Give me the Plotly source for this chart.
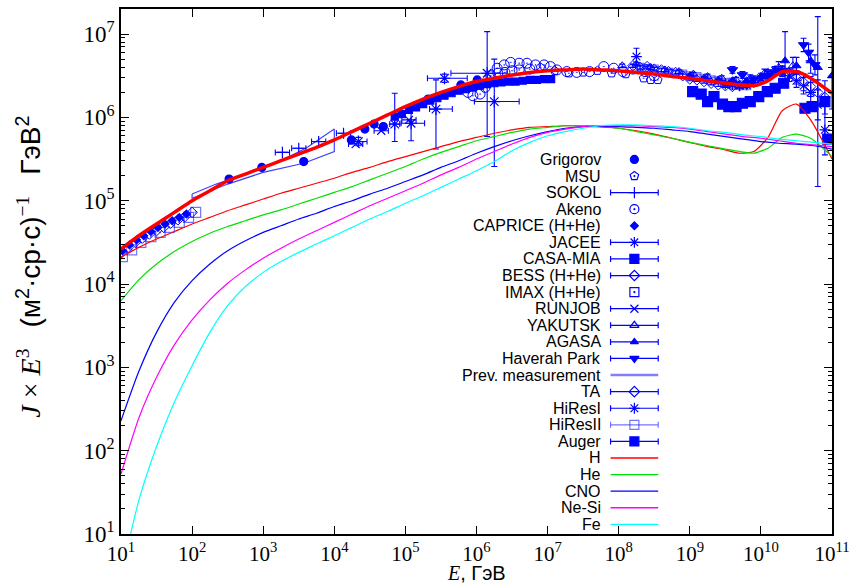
import numpy as np
import plotly.graph_objects as go

BLUE = '#0000ff'
LBLUE = 'rgba(0,0,255,0.55)'

# ---------------- model curves (log10 E [GeV], log10 J*E^3) ----------------
lE_grid = [1.0, 1.25, 1.5, 1.75, 2.0, 2.25, 2.5, 2.75, 3.0, 3.25, 3.5, 3.75, 4.0, 4.25, 4.5, 4.75, 5.0,
           5.25, 5.5, 5.75, 6.0, 6.25, 6.5, 6.75, 7.0, 7.25, 7.5, 7.75, 8.0, 8.25, 8.5, 8.75, 9.0, 9.25, 9.5]
lE_tail = [9.7, 9.9, 10.1, 10.3, 10.5, 10.7, 11.0]
lE_full = [1.0, 1.25, 1.5, 1.75, 2.0, 2.25, 2.5, 2.75, 3.0, 3.25, 3.5, 3.75, 4.0, 4.25, 4.5, 4.75, 5.0,
           5.25, 5.5, 5.75, 6.0, 6.25, 6.5, 6.75, 7.0, 7.25, 7.5, 7.75, 8.0, 8.25, 8.5, 8.75, 9.0, 9.25, 9.5,
           9.75, 10.0, 10.25, 10.5, 10.75, 11.0]

lJ_H = [4.32, 4.44, 4.54, 4.63, 4.72, 4.80, 4.88, 4.95, 5.02, 5.09, 5.15, 5.21, 5.27, 5.34, 5.40, 5.47, 5.53,
        5.59, 5.65, 5.71, 5.76, 5.81, 5.85, 5.88, 5.89, 5.90, 5.90, 5.89, 5.87, 5.84, 5.80, 5.75, 5.70, 5.65, 5.61,
        5.57, 5.59, 5.76, 6.08, 6.16, 5.97, 5.50]
lJ_He = [3.80, 4.05, 4.24, 4.39, 4.51, 4.61, 4.69, 4.76, 4.83, 4.89, 4.96, 5.03, 5.10, 5.17, 5.25, 5.33, 5.41,
         5.50, 5.58, 5.65, 5.72, 5.77, 5.82, 5.86, 5.88, 5.90, 5.90, 5.89, 5.87, 5.83, 5.79, 5.75, 5.70, 5.66, 5.62,
         5.59, 5.57, 5.63, 5.76, 5.80, 5.75, 5.53]
lJ_CNO = [2.36, 2.95, 3.42, 3.78, 4.04, 4.24, 4.40, 4.52, 4.62, 4.70, 4.78, 4.85, 4.93, 5.00, 5.08, 5.15, 5.23,
          5.31, 5.40, 5.48, 5.57, 5.65, 5.72, 5.78, 5.83, 5.87, 5.89, 5.89, 5.89, 5.88, 5.87, 5.85, 5.83, 5.80,
          5.77, 5.74, 5.71, 5.69, 5.68, 5.66, 5.62]
lJ_NeSi = [1.72, 2.39, 2.88, 3.27, 3.57, 3.81, 4.01, 4.17, 4.31, 4.43, 4.54, 4.64, 4.74, 4.84, 4.94, 5.03, 5.12,
           5.21, 5.31, 5.40, 5.50, 5.59, 5.68, 5.76, 5.82, 5.86, 5.89, 5.90, 5.90, 5.90, 5.89, 5.88, 5.86, 5.83,
           5.80, 5.77, 5.75, 5.72, 5.69, 5.67, 5.65]
lJ_Fe = [0.50, 1.40, 2.05, 2.58, 3.02, 3.42, 3.74, 3.97, 4.14, 4.27, 4.38, 4.48, 4.58, 4.68, 4.78, 4.87, 4.97,
         5.06, 5.16, 5.26, 5.36, 5.47, 5.60, 5.70, 5.78, 5.83, 5.87, 5.90, 5.91, 5.91, 5.90, 5.89, 5.87, 5.84,
         5.82, 5.79, 5.77, 5.74, 5.72, 5.70, 5.68]
lJ_tot = [4.42, 4.58, 4.72, 4.86, 5.00, 5.12, 5.24, 5.32, 5.40, 5.48, 5.56, 5.64, 5.73, 5.83, 5.93, 6.03, 6.13,
          6.22, 6.30, 6.37, 6.43, 6.47, 6.51, 6.54, 6.56, 6.57, 6.58, 6.57, 6.56, 6.54, 6.52, 6.49, 6.47, 6.44, 6.41,
          6.39, 6.38, 6.44, 6.55, 6.55, 6.47, 6.29]

# ---------------- experimental data (log10 values) ----------------
lE_grig = [2.52, 2.98, 3.57, 4.24, 4.43, 4.56, 4.69, 5.15, 5.32, 5.78, 6.01]
lJ_grig = [5.26, 5.40, 5.47, 5.73, 5.86, 5.92, 5.89, 6.13, 6.22, 6.39, 6.45]

lE_msu = [6.9, 7.1, 7.3, 7.5, 7.7, 7.9, 8.1, 8.35, 8.45, 8.55]
lJ_msu = [6.60, 6.56, 6.53, 6.54, 6.56, 6.53, 6.52, 6.47, 6.45, 6.45]

lE_sok = [3.27, 3.50, 3.78, 4.13]
lJ_sok = [5.58, 5.63, 5.71, 5.81]
lE_sok_lo = [3.17, 3.40, 3.68, 4.03]
lE_sok_hi = [3.37, 3.60, 3.88, 4.23]

lE_ak = [5.88, 5.95, 6.05, 6.12, 6.2, 6.3, 6.4, 6.5, 6.6, 6.75, 6.29, 6.39, 6.48, 6.60, 6.71, 6.83,
         6.95, 7.04, 7.13, 7.27, 7.41, 7.59, 7.79, 7.93, 8.06, 8.2, 8.37, 8.5]
lJ_ak = [6.30, 6.26, 6.28, 6.36, 6.50, 6.53, 6.54, 6.56, 6.57, 6.58, 6.59, 6.63, 6.66, 6.65, 6.65, 6.63,
         6.63, 6.61, 6.57, 6.55, 6.54, 6.55, 6.61, 6.59, 6.55, 6.58, 6.55, 6.50]

lE_cap = [1.02, 1.12, 1.22, 1.32, 1.42, 1.52, 1.62, 1.72, 1.82, 1.92]
lJ_cap = [4.40, 4.47, 4.53, 4.58, 4.63, 4.68, 4.72, 4.76, 4.80, 4.84]

lE_jac = [4.34, 4.85, 5.08, 5.43, 5.55, 6.15, 6.25]
lJ_jac = [5.71, 5.92, 5.93, 6.10, 6.47, 6.53, 6.19]
lE_jac_lo = [4.22, 4.78, 4.94, 5.34, 5.31, 5.64, 5.97]
lE_jac_hi = [4.46, 4.92, 5.27, 5.66, 5.87, 6.43, 6.60]
lJ_jac_lo = [5.66, 5.71, 5.72, 5.62, 6.42, 5.77, 5.41]
lJ_jac_hi = [5.76, 6.29, 6.11, 6.45, 6.52, 7.03, 6.70]

lE_casa = [4.85, 4.95, 5.05, 5.15, 5.25, 5.35, 5.45, 5.55, 5.65, 5.75, 5.85, 5.95, 6.05, 6.15, 6.25, 6.35,
           6.45, 6.55, 6.65, 6.75, 6.85, 6.95, 7.05]
lJ_casa = [6.01, 6.04, 6.09, 6.12, 6.16, 6.20, 6.23, 6.26, 6.29, 6.32, 6.34, 6.36, 6.38, 6.40, 6.41, 6.42,
           6.43, 6.43, 6.44, 6.45, 6.45, 6.46, 6.46]

lE_bess = [1.0, 1.1, 1.2, 1.3, 1.4, 1.5, 1.6, 1.7, 1.8, 1.9, 2.0]
lJ_bess = [4.38, 4.44, 4.50, 4.55, 4.60, 4.64, 4.68, 4.73, 4.77, 4.81, 4.86]

lE_imax = [1.02, 1.15, 1.28, 1.42, 1.55, 1.68, 1.82, 1.95, 2.05]
lJ_imax = [4.33, 4.41, 4.50, 4.57, 4.62, 4.68, 4.74, 4.80, 4.86]

lE_run = [4.30, 4.66, 5.05]
lJ_run = [5.68, 5.84, 5.97]
lE_run_lo = [4.20, 4.56, 4.95]
lE_run_hi = [4.40, 4.76, 5.15]

lE_yak = [8.05, 8.25, 8.45, 8.65, 8.85, 9.05, 9.25, 9.45, 9.65, 9.85, 10.05, 10.25, 10.45]
lJ_yak = [6.62, 6.64, 6.60, 6.57, 6.55, 6.52, 6.49, 6.47, 6.45, 6.47, 6.53, 6.60, 6.62]
dJ_yak = [0.02, 0.02, 0.02, 0.02, 0.02, 0.02, 0.03, 0.03, 0.03, 0.04, 0.05, 0.07, 0.10]

lE_ag = [9.0, 9.2, 9.4, 9.6, 9.8, 10.0, 10.2, 10.34, 10.5, 10.7, 10.8, 11.0]
lJ_ag = [6.50, 6.47, 6.45, 6.44, 6.44, 6.49, 6.56, 6.68, 6.62, 6.68, 6.60, 6.50]
lJ_ag_lo = [6.48, 6.45, 6.43, 6.41, 6.41, 6.45, 6.51, 6.45, 6.52, 6.53, 5.17, 6.10]
lJ_ag_hi = [6.52, 6.49, 6.47, 6.47, 6.47, 6.53, 6.61, 7.03, 6.72, 6.80, 7.21, 6.95]

lE_hp = [9.60, 9.74, 9.90, 10.10, 10.30, 10.60, 10.67, 10.76]
lJ_hp = [6.57, 6.51, 6.46, 6.50, 6.56, 6.87, 6.78, 6.63]
dJ_hp = [0.04, 0.04, 0.04, 0.05, 0.06, 0.08, 0.10, 0.12]

lE_ta = [8.2, 8.3, 8.4, 8.5, 8.6, 8.7, 8.8, 8.9, 9.0, 9.1, 9.2, 9.3, 9.4, 9.5, 9.6, 9.7, 9.8, 9.9,
         10.0, 10.1, 10.2, 10.3, 10.4, 10.5, 10.6, 10.7, 10.8, 10.9]
lJ_ta = [6.62, 6.60, 6.61, 6.58, 6.57, 6.55, 6.54, 6.50, 6.46, 6.45, 6.43, 6.41, 6.39, 6.38, 6.37, 6.38, 6.40, 6.43,
         6.47, 6.52, 6.55, 6.56, 6.53, 6.48, 6.42, 6.37, 6.30, 6.24]
dJ_ta = [0.02] * 14 + [0.03] * 6 + [0.04, 0.05, 0.06, 0.08, 0.10, 0.12, 0.15, 0.20]

lE_h1 = [8.25, 9.5, 9.6, 9.7, 9.8, 9.9, 10.0, 10.1, 10.2, 10.3, 10.4, 10.5, 10.6, 10.7, 10.8, 10.9]
lJ_h1 = [6.73, 6.40, 6.39, 6.38, 6.39, 6.42, 6.47, 6.53, 6.56, 6.55, 6.50, 6.44, 6.38, 6.30, 6.15, 5.85]
dJ_h1 = [0.10, 0.02, 0.02, 0.02, 0.03, 0.03, 0.03, 0.04, 0.05, 0.06, 0.07, 0.08, 0.10, 0.12, 0.18, 0.30]

lE_h2 = [8.3, 8.4, 8.5, 8.6, 8.7, 8.8, 8.9, 9.0, 9.1, 9.2, 9.3, 9.4, 9.5, 9.6, 9.7, 9.8]
lJ_h2 = [6.60, 6.58, 6.58, 6.56, 6.54, 6.53, 6.52, 6.50, 6.49, 6.47, 6.45, 6.44, 6.42, 6.41, 6.39, 6.38]
dJ_h2 = [0.03] * 16

lE_aug = [9.04, 9.16, 9.25, 9.34, 9.46, 9.55, 9.65, 9.74, 9.85, 9.97, 10.09, 10.20, 10.32, 10.62, 10.72, 10.90, 10.94]
lJ_aug = [6.31, 6.28, 6.19, 6.25, 6.16, 6.13, 6.13, 6.17, 6.19, 6.25, 6.31, 6.35, 6.41, 6.11, 6.13, 6.19, 5.74]

lE_prev = [2.0, 2.34, 2.76, 3.2, 3.6, 4.0, 4.0, 3.57, 3.0, 2.5, 2.0, 2.0]
lJ_prev = [5.08, 5.20, 5.32, 5.46, 5.63, 5.86, 5.59, 5.45, 5.34, 5.20, 5.03, 5.08]

x_ticks = [1, 2, 3, 4, 5, 6, 7, 8, 9, 10, 11]
y_ticks = [1, 2, 3, 4, 5, 6, 7]

legend_labels = ['Grigorov', 'MSU', 'SOKOL', 'Akeno', 'CAPRICE (H+He)', 'JACEE', 'CASA-MIA', 'BESS (H+He)',
                 'IMAX (H+He)', 'RUNJOB', 'YAKUTSK', 'AGASA', 'Haverah Park', 'Prev. measurement', 'TA',
                 'HiResI', 'HiResII', 'Auger', 'H', 'He', 'CNO', 'Ne-Si', 'Fe']


def pw(a):
    return np.power(10.0, np.asarray(a, dtype=float))


fig = go.Figure()


def err(center, lo, hi, color=BLUE, width=3):
    c = pw(center)
    return dict(type='data', symmetric=False, array=pw(hi) - c, arrayminus=c - pw(lo),
                color=color, thickness=1.1, width=width)


def pts(lx, ly, symbol, size, color=BLUE, lw=1.2, ex=None, ey=None):
    kw = {}
    if ex is not None:
        kw['error_x'] = err(lx, ex[0], ex[1], color)
    if ey is not None:
        kw['error_y'] = err(ly, ey[0], ey[1], color)
    fig.add_trace(go.Scatter(x=pw(lx), y=pw(ly), mode='markers', showlegend=False,
                             marker=dict(symbol=symbol, size=size, color=color,
                                         line=dict(color=color, width=lw)), **kw))


def sym(v, d):
    return ([a - b for a, b in zip(v, d)], [a + b for a, b in zip(v, d)])


# low energy data
pts(lE_imax, lJ_imax, 'square-open-dot', 10, LBLUE, 1.2)
pts(lE_bess, lJ_bess, 'diamond-open', 8, BLUE, 1.0)
pts(lE_cap, lJ_cap, 'diamond', 6, BLUE)
fig.add_trace(go.Scatter(x=pw(lE_prev), y=pw(lJ_prev), mode='lines', showlegend=False,
                         line=dict(color='rgba(0,0,255,0.75)', width=1.2)))
pts(lE_grig, lJ_grig, 'circle', 8, BLUE)
pts(lE_sok, lJ_sok, 'cross-thin', 8, BLUE, 1.2, ex=(lE_sok_lo, lE_sok_hi))
pts(lE_run, lJ_run, 'x-thin', 8, BLUE, 1.2, ex=(lE_run_lo, lE_run_hi))
pts(lE_jac, lJ_jac, 'asterisk', 10, BLUE, 1.2, ex=(lE_jac_lo, lE_jac_hi), ey=(lJ_jac_lo, lJ_jac_hi))
pts(lE_casa, lJ_casa, 'square', 7, BLUE)
pts(lE_ak, lJ_ak, 'circle-open-dot', 10, BLUE, 1.0)
pts(lE_msu, lJ_msu, 'pentagon-open-dot', 9, BLUE, 1.0)
# ankle region
pts(lE_h2, lJ_h2, 'square-open', 8, LBLUE, 1.2, ey=sym(lJ_h2, dJ_h2))
pts(lE_ta, lJ_ta, 'diamond-open', 8, BLUE, 1.0, ey=sym(lJ_ta, dJ_ta))
pts(lE_yak, lJ_yak, 'triangle-up-open', 8, BLUE, 1.0, ey=sym(lJ_yak, dJ_yak))
pts(lE_h1, lJ_h1, 'asterisk', 9, BLUE, 1.1, ey=sym(lJ_h1, dJ_h1))
pts(lE_ag, lJ_ag, 'triangle-up', 8, BLUE, 1.0, ey=(lJ_ag_lo, lJ_ag_hi))
pts(lE_hp, lJ_hp, 'triangle-down', 9, BLUE, 1.0, ey=sym(lJ_hp, dJ_hp))
pts(lE_aug, lJ_aug, 'square', 10, BLUE)

# model components
lE_ht = lE_grid + lE_tail
for lx, ly, col in [(lE_ht, lJ_H, '#ff0000'), (lE_ht, lJ_He, '#00e000'), (lE_full, lJ_CNO, '#0000ff'),
                    (lE_full, lJ_NeSi, '#ff00ff'), (lE_full, lJ_Fe, '#00ffff')]:
    fig.add_trace(go.Scatter(x=pw(lx), y=pw(ly), mode='lines', showlegend=False,
                             line=dict(color=col, width=1.2, shape='spline', smoothing=0.6)))
fig.add_trace(go.Scatter(x=pw(lE_ht), y=pw(lJ_tot), mode='lines', showlegend=False,
                         line=dict(color='#ff0000', width=3.5, shape='spline', smoothing=0.6)))

# ---------------- gnuplot-style key (pixel coordinates on hidden overlay axes) ----------------
key_text_x = 605
key_x0, key_x1 = 614, 662
key_y0, key_dy = 158, 16.65
key_style = [
    ('m', 'circle', 8, BLUE, False), ('m', 'pentagon-open-dot', 9, BLUE, False), ('m', 'cross-thin', 8, BLUE, True),
    ('m', 'circle-open-dot', 9, BLUE, False), ('m', 'diamond', 6, BLUE, False), ('m', 'asterisk', 9, BLUE, True),
    ('m', 'square', 9, BLUE, True), ('m', 'diamond-open', 8, BLUE, True), ('m', 'square-open-dot', 9, BLUE, False),
    ('m', 'x-thin', 8, BLUE, True), ('m', 'triangle-up-open', 8, BLUE, True), ('m', 'triangle-up', 7, BLUE, True),
    ('m', 'triangle-down', 8, BLUE, True), ('l', None, 0, 'rgba(0,0,255,0.5)', False),
    ('m', 'diamond-open', 8, BLUE, True), ('m', 'asterisk', 9, BLUE, True), ('m', 'square-open', 9, LBLUE, True),
    ('m', 'square', 9, BLUE, True), ('l', None, 0, '#ff0000', False), ('l', None, 0, '#00e000', False),
    ('l', None, 0, '#0000ff', False), ('l', None, 0, '#ff00ff', False), ('l', None, 0, '#00ffff', False)]

annotations = []
for i, (lab, st) in enumerate(zip(legend_labels, key_style)):
    yy = key_y0 + i * key_dy
    kind, s, size, col, eb = st
    annotations.append(dict(x=key_text_x, y=yy, xref='x2', yref='y2', text=lab, showarrow=False,
                            xanchor='right', yanchor='middle', borderpad=0,
                            font=dict(family='Liberation Sans, Arial, sans-serif', size=16, color='black')))
    if kind == 'l':
        fig.add_trace(go.Scatter(x=[key_x0, key_x1], y=[yy, yy], xaxis='x2', yaxis='y2', mode='lines',
                                 showlegend=False, line=dict(color=col, width=2.5 if i < 18 else 1.4)))
    else:
        kw = {}
        if eb:
            kw['error_x'] = dict(type='data', array=[(key_x1 - key_x0) / 2], color=col, thickness=1.2, width=3)
        fig.add_trace(go.Scatter(x=[(key_x0 + key_x1) / 2], y=[yy], xaxis='x2', yaxis='y2', mode='markers',
                                 showlegend=False,
                                 marker=dict(symbol=s, size=size, color=col, line=dict(color=col, width=1.2)), **kw))

L, R, T, B = 121, 837, 7, 534
W, H = 857, 584


def px(xp):
    return (xp - L) / (R - L)


def py(yp):
    return (B - yp) / (B - T)


SERIF = 'Liberation Serif, Times New Roman, serif'
SANS = 'Liberation Sans, Arial, sans-serif'

annotations.append(dict(x=px(479), y=py(585), xref='paper', yref='paper', showarrow=False,
                        xanchor='center', yanchor='bottom', borderpad=0,
                        text='<i>E</i><span style="font-family:Liberation Sans">, ГэВ</span>',
                        font=dict(family=SERIF, size=20, color='black')))
annotations.append(dict(x=px(28), y=py(266), xref='paper', yref='paper', showarrow=False, textangle=-90,
                        xanchor='center', yanchor='middle',
                        text='<i>J</i> × <i>E</i><sup>3</sup>   <span style="font-family:Liberation Sans">(м<sup>2</sup>·ср·с)</span><sup>−1</sup>   <span style="font-family:Liberation Sans">ГэВ<sup>2</sup></span>',
                        font=dict(family=SERIF, size=28, color='black')))

fig.update_layout(
    width=W, height=H, margin=dict(l=L, r=W - R, t=T, b=H - B, pad=0),
    paper_bgcolor='white', plot_bgcolor='white', showlegend=False,
    annotations=annotations,
    xaxis=dict(type='log', range=[1, 11], tickvals=[10.0 ** v for v in x_ticks],
               ticktext=['10<sup>%d</sup>' % v for v in x_ticks], ticks='inside', ticklen=8, tickwidth=1,
               tickcolor='black', showline=True, linecolor='black', linewidth=1.5, mirror='allticks',
               showgrid=False, zeroline=False, ticklabelstandoff=0,
               tickfont=dict(family=SERIF, size=21, color='black')),
    yaxis=dict(type='log', range=[1, np.log10(2e7)], tickvals=[10.0 ** v for v in y_ticks],
               ticktext=['10<sup>%d</sup>' % v for v in y_ticks], ticks='inside', ticklen=8, tickwidth=1,
               tickcolor='black', showline=True, linecolor='black', linewidth=1.5, mirror='allticks',
               showgrid=False, zeroline=False, tickfont=dict(family=SERIF, size=23, color='black'),
               minor=dict(ticks='inside', ticklen=4, tickcolor='black', dtick='D1', showgrid=False)),
    xaxis2=dict(overlaying='x', anchor='y2', range=[L, R], visible=False, showgrid=False),
    yaxis2=dict(overlaying='y', anchor='x2', range=[B, T], visible=False, showgrid=False),
)

fig.write_html('out.html')
